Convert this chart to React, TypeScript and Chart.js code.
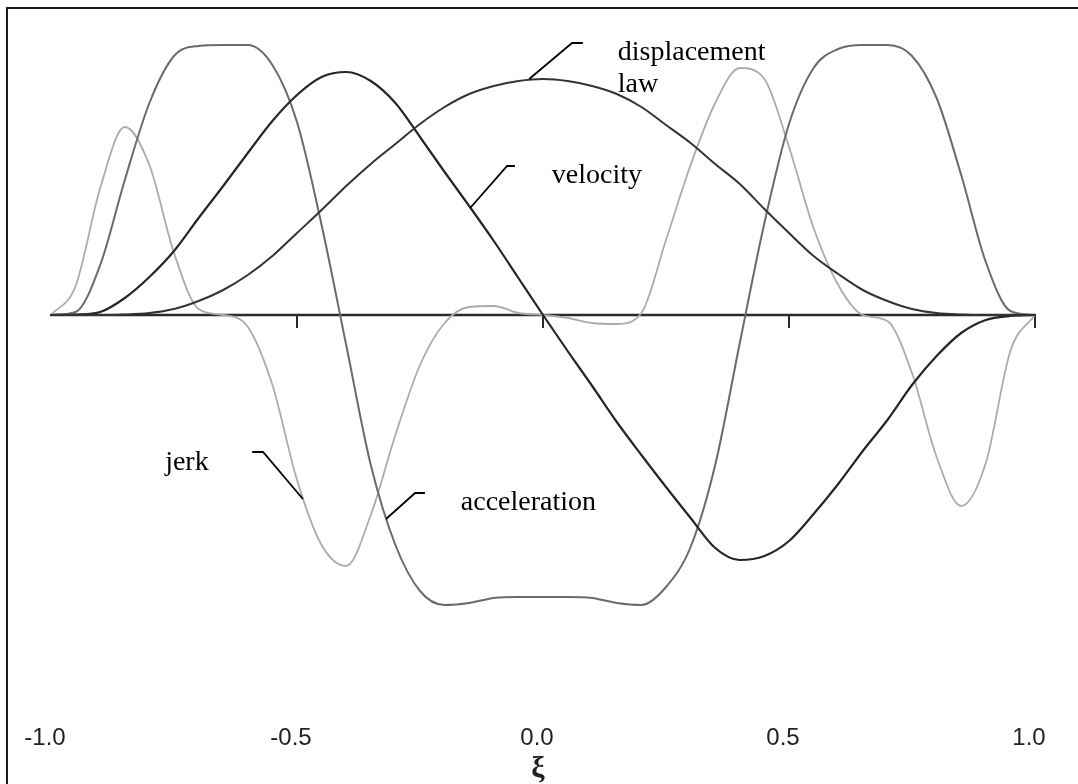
import React, { useEffect, useRef } from "react";
import { Chart, registerables } from "chart.js";

Chart.register(...registerables);

// normalized coordinate ξ
const xi = [
  -1.0, -0.95, -0.9, -0.85, -0.8, -0.75, -0.7, -0.65, -0.6, -0.55, -0.5,
  -0.45, -0.4, -0.35, -0.3, -0.25, -0.2, -0.15, -0.1, -0.05, 0.0,
  0.05, 0.1, 0.15, 0.2, 0.25, 0.3, 0.35, 0.4, 0.45, 0.5,
  0.55, 0.6, 0.65, 0.7, 0.75, 0.8, 0.85, 0.9, 0.95, 1.0,
];

const displacement = [
  0, 0, 0, 0.005, 0.02, 0.06, 0.14, 0.25, 0.4, 0.59, 0.82,
  1.05, 1.29, 1.51, 1.71, 1.91, 2.08, 2.21, 2.29, 2.34, 2.36,
  2.34, 2.29, 2.21, 2.08, 1.9, 1.72, 1.51, 1.31, 1.06, 0.82,
  0.59, 0.41, 0.25, 0.14, 0.06, 0.02, 0.005, 0, 0, 0,
];

const velocity = [
  0, 0.005, 0.03, 0.17, 0.38, 0.64, 0.97, 1.29, 1.62, 1.94, 2.2,
  2.38, 2.43, 2.34, 2.12, 1.78, 1.43, 1.09, 0.74, 0.37, 0,
  -0.36, -0.71, -1.07, -1.4, -1.72, -2.03, -2.33, -2.45, -2.41, -2.26,
  -1.99, -1.69, -1.36, -1.05, -0.7, -0.41, -0.18, -0.05, -0.01, 0,
];

const acceleration = [
  0, 0.03, 0.5, 1.35, 2.12, 2.59, 2.69, 2.7, 2.7, 2.5, 1.93,
  0.9, -0.3, -1.5, -2.3, -2.76, -2.9, -2.88, -2.83, -2.82, -2.82,
  -2.82, -2.83, -2.88, -2.9, -2.72, -2.32, -1.5, -0.28, 0.92, 1.91,
  2.47, 2.66, 2.7, 2.7, 2.59, 2.17, 1.4, 0.53, 0.04, 0,
];

const jerk = [
  0, 0.29, 1.27, 1.88, 1.5, 0.62, 0.06, 0, -0.12, -0.7, -1.65,
  -2.3, -2.51, -2.0, -1.2, -0.5, -0.08, 0.08, 0.09, 0.02, 0,
  -0.03, -0.08, -0.09, 0.02, 0.75, 1.5, 2.12, 2.47, 2.36, 1.68,
  0.87, 0.3, 0, -0.06, -0.58, -1.42, -1.91, -1.48, -0.36, 0,
];

const tickLabels = [-1.0, -0.5, 0.0, 0.5, 1.0];
const tickMarks = [-0.5, 0.0, 0.5, 1.0];
const axisTitle = "ξ";

const annotations = [
  { text: ["displacement", "law"], at: [[0.152, 2.55], [0.152, 2.23]], leader: [[0.081, 2.72], [0.059, 2.72], [-0.028, 2.36]] },
  { text: ["velocity"], at: [[0.018, 1.32]], leader: [[-0.057, 1.49], [-0.073, 1.49], [-0.148, 1.07]] },
  { text: ["jerk"], at: [[-0.768, -1.55]], leader: [[-0.591, -1.37], [-0.569, -1.37], [-0.488, -1.84]] },
  { text: ["acceleration"], at: [[-0.167, -1.95]], leader: [[-0.24, -1.78], [-0.26, -1.78], [-0.319, -2.04]] },
];

const toPoints = (ys: number[]) => xi.map((x, i) => ({ x, y: ys[i] }));

const decor = {
  id: "decor",
  beforeDraw(chart: any) {
    const ctx = chart.ctx;
    ctx.save();
    ctx.fillStyle = "#ffffff";
    ctx.fillRect(0, 0, chart.width, chart.height);
    ctx.strokeStyle = "#1a1a1a";
    ctx.lineWidth = 2;
    ctx.beginPath();
    ctx.moveTo(7, chart.height);
    ctx.lineTo(7, 8);
    ctx.lineTo(chart.width, 8);
    ctx.stroke();
    ctx.restore();
  },
  beforeDatasetsDraw(chart: any) {
    const ctx = chart.ctx;
    const xs = chart.scales.x;
    const ys = chart.scales.y;
    const y0 = ys.getPixelForValue(0);
    ctx.save();
    ctx.strokeStyle = "#2a2a2a";
    ctx.lineWidth = 2.5;
    ctx.beginPath();
    ctx.moveTo(xs.getPixelForValue(-1) - 1, y0);
    ctx.lineTo(xs.getPixelForValue(1) + 1, y0);
    ctx.stroke();
    ctx.lineWidth = 2;
    for (const t of tickMarks) {
      const px = Math.round(xs.getPixelForValue(t));
      ctx.beginPath();
      ctx.moveTo(px, y0);
      ctx.lineTo(px, y0 + 13);
      ctx.stroke();
    }
    ctx.restore();
  },
  afterDatasetsDraw(chart: any) {
    const ctx = chart.ctx;
    const xs = chart.scales.x;
    const ys = chart.scales.y;
    ctx.save();
    // tick labels
    ctx.fillStyle = "#222";
    ctx.font = '24px "Liberation Sans", Arial, sans-serif';
    ctx.textAlign = "center";
    ctx.textBaseline = "alphabetic";
    for (const t of tickLabels) {
      ctx.fillText(t.toFixed(1), xs.getPixelForValue(t) - 6, 745);
    }
    // axis title
    ctx.font = 'bold 30px "Liberation Serif", "DejaVu Serif", serif';
    ctx.fillText(axisTitle, xs.getPixelForValue(0) - 5, 777);
    // annotations
    ctx.font = '28px "Liberation Serif", "Times New Roman", serif';
    ctx.textAlign = "left";
    ctx.fillStyle = "#000";
    ctx.strokeStyle = "#000";
    ctx.lineWidth = 1.8;
    for (const a of annotations) {
      a.text.forEach((s, i) => {
        ctx.fillText(s, xs.getPixelForValue(a.at[i][0]), ys.getPixelForValue(a.at[i][1]));
      });
      ctx.beginPath();
      a.leader.forEach((p, i) => {
        const px = xs.getPixelForValue(p[0]);
        const py = ys.getPixelForValue(p[1]);
        if (i === 0) ctx.moveTo(px, py);
        else ctx.lineTo(px, py);
      });
      ctx.stroke();
    }
    ctx.restore();
  },
};

export default function App() {
  const ref = useRef<HTMLCanvasElement | null>(null);
  useEffect(() => {
    if (!ref.current) return;
    const common = { pointRadius: 0, fill: false, cubicInterpolationMode: "monotone" as const };
    const chart = new Chart(ref.current, {
      type: "line",
      data: {
        datasets: [
          { label: "displacement law", data: toPoints(displacement), borderColor: "#333333", borderWidth: 2, ...common },
          { label: "velocity", data: toPoints(velocity), borderColor: "#262626", borderWidth: 2.2, ...common },
          { label: "acceleration", data: toPoints(acceleration), borderColor: "#6b6b6b", borderWidth: 2, ...common },
          { label: "jerk", data: toPoints(jerk), borderColor: "#ababab", borderWidth: 1.8, ...common },
        ],
      },
      options: {
        responsive: false,
        animation: false,
        devicePixelRatio: 1,
        layout: { padding: { left: 51, right: 43, top: 15, bottom: 59 } },
        scales: {
          x: { type: "linear", min: -1, max: 1, display: false },
          y: { type: "linear", min: -4.1, max: 3.0, display: false },
        },
        plugins: { legend: { display: false }, tooltip: { enabled: false } },
      },
      plugins: [decor],
    });
    return () => chart.destroy();
  }, []);
  return (
    <div style={{ position: "fixed", left: 0, top: 0, width: 1078, height: 784, background: "#fff" }}>
      <canvas ref={ref} width={1078} height={784} style={{ width: 1078, height: 784, display: "block" }} />
    </div>
  );
}
